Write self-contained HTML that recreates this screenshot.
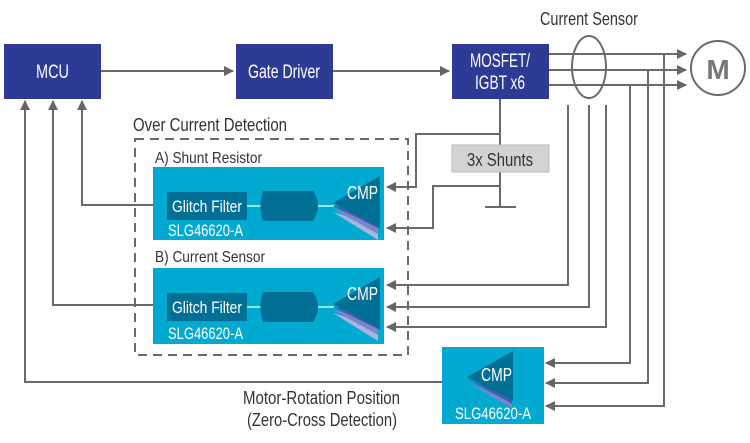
<!DOCTYPE html>
<html><head><meta charset="utf-8"><style>
html,body{margin:0;padding:0;background:#fff;}
svg{display:block;}
text{font-family:"Liberation Sans",sans-serif;}
</style></head><body>
<svg width="750" height="443" viewBox="0 0 750 443" xmlns="http://www.w3.org/2000/svg">
<defs>
<marker id="a" markerWidth="10" markerHeight="10" refX="9" refY="5" orient="auto" markerUnits="userSpaceOnUse">
<path d="M0,0 L10,5 L0,10 z" fill="#666"/></marker>
</defs>
<g stroke="#6a6a6a" stroke-width="2" fill="none">
<line x1="101" y1="71" x2="233" y2="71" marker-end="url(#a)"/>
<line x1="333" y1="71" x2="449" y2="71" marker-end="url(#a)"/>
<line x1="549" y1="54" x2="686" y2="54" marker-end="url(#a)"/>
<line x1="549" y1="70" x2="686" y2="70" marker-end="url(#a)"/>
<line x1="549" y1="85" x2="686" y2="85" marker-end="url(#a)"/>
<ellipse cx="589" cy="67" rx="17" ry="31"/>
<circle cx="718" cy="68" r="27"/>
<polyline points="442,382 25,382 25,101" marker-end="url(#a)"/>
<polyline points="153,305 53,305 53,101" marker-end="url(#a)"/>
<polyline points="153,205 82,205 82,101" marker-end="url(#a)"/>
<line x1="500" y1="99" x2="500" y2="145"/>
<polyline points="500,134 416,134 416,187 387,187" marker-end="url(#a)"/>
<line x1="500" y1="172" x2="500" y2="207"/>
<line x1="485" y1="207" x2="516" y2="207"/>
<polyline points="500,186 433,186 433,228 387,228" marker-end="url(#a)"/>
<polyline points="568,105 568,285 387,285" marker-end="url(#a)"/>
<polyline points="589,105 589,307 387,307" marker-end="url(#a)"/>
<polyline points="606,105 606,327 387,327" marker-end="url(#a)"/>
<polyline points="630,85 630,363 546,363" marker-end="url(#a)"/>
<polyline points="648,70 648,383 546,383" marker-end="url(#a)"/>
<polyline points="664,54 664,406 546,406" marker-end="url(#a)"/>
<rect x="135" y="139" width="273" height="216" stroke-dasharray="9,6"/>
</g>
<text x="718" y="79" font-size="28" font-weight="bold" fill="#777" text-anchor="middle">M</text>
<rect x="4" y="44" width="97" height="55" fill="#2e3b95"/>
<text x="36" y="78" font-size="19" fill="#fff" textLength="33" lengthAdjust="spacingAndGlyphs">MCU</text>
<rect x="236" y="44" width="97" height="55" fill="#2e3b95"/>
<text x="248" y="78" font-size="19" fill="#fff" textLength="72" lengthAdjust="spacingAndGlyphs">Gate Driver</text>
<rect x="452" y="44" width="97" height="55" fill="#2e3b95"/>
<text x="470" y="67" font-size="19" fill="#fff" textLength="60" lengthAdjust="spacingAndGlyphs">MOSFET/</text>
<text x="475" y="89" font-size="19" fill="#fff" textLength="50" lengthAdjust="spacingAndGlyphs">IGBT x6</text>
<rect x="452" y="145" width="97" height="27" fill="#d3d3d3" stroke="#bbb"/>
<text x="467" y="166" font-size="18" fill="#333" textLength="66" lengthAdjust="spacingAndGlyphs">3x Shunts</text>
<text x="540" y="25" font-size="18" fill="#333" textLength="98" lengthAdjust="spacingAndGlyphs">Current Sensor</text>
<text x="133" y="131" font-size="18" fill="#333" textLength="154" lengthAdjust="spacingAndGlyphs">Over Current Detection</text>
<text x="155" y="163" font-size="16" fill="#333" textLength="107" lengthAdjust="spacingAndGlyphs">A) Shunt Resistor</text>
<text x="155" y="262" font-size="16" fill="#333" textLength="110" lengthAdjust="spacingAndGlyphs">B) Current Sensor</text>
<g>
<rect x="153" y="167" width="231" height="73" fill="#00a9d0"/>
<rect x="167" y="192" width="80" height="28" fill="#006f96"/>
<text x="172" y="212" font-size="17" fill="#fff" textLength="70" lengthAdjust="spacingAndGlyphs">Glitch Filter</text>
<line x1="247" y1="206" x2="263" y2="206" stroke="#bfe" stroke-width="1.5"/>
<path d="M263,191 H313 Q323,206 313,221 H263 Q258,206 263,191z" fill="#006f96"/>
<line x1="318" y1="206" x2="334" y2="206" stroke="#bfe" stroke-width="1.5"/>
<path d="M333,212 L378,240 L378,226z" fill="#a9b5e0"/>
<path d="M333,209 L378,234 L378,220z" fill="#7a86cc"/>
<path d="M333,206 L380,229 L380,212z" fill="#4d58b0"/>
<path d="M333,203 L380,176 L380,228z" fill="#006f96"/>
<text x="347" y="199" font-size="18" fill="#fff" textLength="31" lengthAdjust="spacingAndGlyphs">CMP</text>
<text x="168" y="236" font-size="17" fill="#fff" textLength="75" lengthAdjust="spacingAndGlyphs">SLG46620-A</text>
</g>
<g transform="translate(0,101)">
<rect x="153" y="167" width="231" height="76" fill="#00a9d0"/>
<rect x="167" y="192" width="80" height="28" fill="#006f96"/>
<text x="172" y="212" font-size="17" fill="#fff" textLength="70" lengthAdjust="spacingAndGlyphs">Glitch Filter</text>
<line x1="247" y1="206" x2="263" y2="206" stroke="#bfe" stroke-width="1.5"/>
<path d="M263,191 H313 Q323,206 313,221 H263 Q258,206 263,191z" fill="#006f96"/>
<line x1="318" y1="206" x2="334" y2="206" stroke="#bfe" stroke-width="1.5"/>
<path d="M333,212 L378,240 L378,226z" fill="#a9b5e0"/>
<path d="M333,209 L378,234 L378,220z" fill="#7a86cc"/>
<path d="M333,206 L380,229 L380,212z" fill="#4d58b0"/>
<path d="M333,203 L380,176 L380,228z" fill="#006f96"/>
<text x="347" y="199" font-size="18" fill="#fff" textLength="31" lengthAdjust="spacingAndGlyphs">CMP</text>
<text x="168" y="238" font-size="17" fill="#fff" textLength="75" lengthAdjust="spacingAndGlyphs">SLG46620-A</text>
</g>
<rect x="442" y="347" width="102" height="77" fill="#00a9d0"/>
<path d="M466,382 L512,402 L512,408z" fill="#7a86cc"/>
<path d="M466,378 L512,398 L512,404z" fill="#4d58b0"/>
<path d="M467,377 L513,351 L513,401z" fill="#006f96"/>
<text x="481" y="381" font-size="18" fill="#fff" textLength="31" lengthAdjust="spacingAndGlyphs">CMP</text>
<text x="455" y="419" font-size="17" fill="#fff" textLength="76" lengthAdjust="spacingAndGlyphs">SLG46620-A</text>
<text x="243" y="404" font-size="18" fill="#333" textLength="157" lengthAdjust="spacingAndGlyphs">Motor-Rotation Position</text>
<text x="247" y="426" font-size="18" fill="#333" textLength="150" lengthAdjust="spacingAndGlyphs">(Zero-Cross Detection)</text>
</svg>
</body></html>
